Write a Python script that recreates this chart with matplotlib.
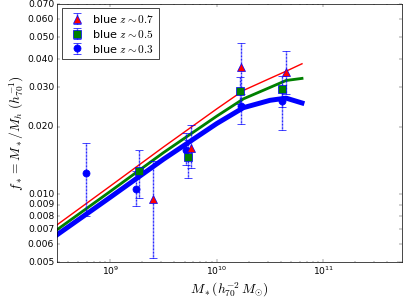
import numpy as np
import matplotlib
matplotlib.use('Agg')
import matplotlib.pyplot as plt
from matplotlib.ticker import FormatStrFormatter, NullFormatter, NullLocator

plt.style.use('classic')

# stellar-to-halo mass fraction, blue galaxies in three redshift bins
mstar_z03 = [5.92e8, 1.74e9, 5.1e9, 1.70e10, 4.12e10]
fstar_z03 = [0.01245, 0.01059, 0.01581, 0.02468, 0.02598]
lo_z03 = [0.00797, 0.00883, 0.01355, 0.0206, 0.01928]
hi_z03 = [0.01694, 0.01274, 0.01883, 0.02784, 0.02991]

mstar_z05 = [1.85e9, 5.33e9, 1.65e10, 4.12e10]
fstar_z05 = [0.01265, 0.0146, 0.02879, 0.0293]
lo_z05 = [0.00966, 0.01186, 0.02511, 0.02435]
hi_z05 = [0.0157, 0.01752, 0.03315, 0.03349]

mstar_z07 = [2.50e9, 5.69e9, 1.68e10, 4.46e10]
fstar_z07 = [0.00955, 0.01609, 0.0370, 0.03515]
lo_z07 = [0.0052, 0.01314, 0.0293, 0.02784]
hi_z07 = [0.01401, 0.0203, 0.04735, 0.04344]

# model curves
mod_m = [3.16e8, 1e9, 3.16e9, 1e10, 1.78e10, 3.16e10, 4.47e10, 6.31e10]
mod_z07 = [0.00731, 0.01088, 0.01624, 0.0240, 0.0290, 0.0328, 0.0353, 0.0381]
mod_z05 = [0.00695, 0.0103, 0.01533, 0.02228, 0.0266, 0.0299, 0.0321, 0.0328]
mod_z03 = [0.0066, 0.0097, 0.01433, 0.02065, 0.0243, 0.0262, 0.0268, 0.0255]

yticks = [0.005, 0.006, 0.007, 0.008, 0.009, 0.010,
          0.020, 0.030, 0.040, 0.050, 0.060, 0.070]

fig = plt.figure(figsize=(8, 6))
ax = fig.add_subplot(111)
fig.subplots_adjust(left=0.14, right=0.988, top=0.987, bottom=0.141)

ax.plot(mod_m, mod_z07, 'r-', lw=2)
ax.plot(mod_m, mod_z05, 'g-', lw=4)
ax.plot(mod_m, mod_z03, 'b-', lw=7)


def err_points(m, f, lo, hi, marker, face, label):
    f = np.array(f)
    yerr = [f - np.array(lo), np.array(hi) - f]
    eb = ax.errorbar(m, f, yerr=yerr, fmt=marker, color='b', mfc=face,
                     mec='b', mew=1, ms=10, ecolor='b', elinewidth=2,
                     capsize=5, capthick=1, label=label)
    eb[2][0].set_linestyle((0, (1.2, 0.8)))
    return eb


h3 = err_points(mstar_z03, fstar_z03, lo_z03, hi_z03, 'o', 'b', r'blue $z\sim0.3$')
h5 = err_points(mstar_z05, fstar_z05, lo_z05, hi_z05, 's', 'g', r'blue $z\sim0.5$')
h7 = err_points(mstar_z07, fstar_z07, lo_z07, hi_z07, '^', 'r', r'blue $z\sim0.7$')

ax.set_xscale('log')
ax.set_yscale('log')
ax.set_xlim(10**8.5, 10**11.74)
ax.set_ylim(0.005, 0.0705)
ax.yaxis.set_minor_locator(NullLocator())
ax.yaxis.set_minor_formatter(NullFormatter())
ax.set_yticks(yticks)
ax.yaxis.set_major_formatter(FormatStrFormatter('%.3f'))
ax.tick_params(labelsize=13)

ax.set_xlabel(r'$M_*(h_{70}^{-2}\,M_{\odot})$', fontsize=19)
ax.set_ylabel(r'$f_*=M_*/M_h\ (h_{70}^{-1})$', fontsize=19, labelpad=2)

leg = ax.legend([h7, h5, h3], [r'blue $z\sim0.7$', r'blue $z\sim0.5$', r'blue $z\sim0.3$'],
                loc='upper left', numpoints=1, fontsize=16, borderaxespad=0.4,
                handletextpad=0.3, labelspacing=0.25)

plt.savefig('out.png', dpi=50.875)
